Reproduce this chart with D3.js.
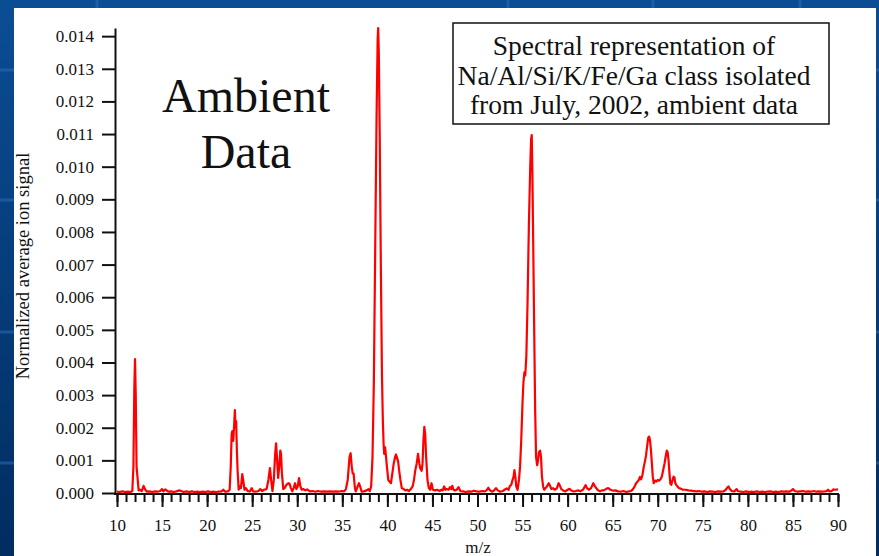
<!DOCTYPE html>
<html>
<head>
<meta charset="utf-8">
<script src="https://cdn.jsdelivr.net/npm/d3@7"></script>
<style>
  html, body { margin: 0; padding: 0; overflow: hidden; }
  svg { display: block; }
  text { font-family: "Liberation Serif", "Times New Roman", serif; fill: #111; }
</style>
</head>
<body>
<div id="vis"></div>
<script>
// spectrum: [m/z, normalized average ion signal]
const spectrum = [
  [10.0, 0.00004], [10.3, 0.00003], [10.6, 0.00005], [10.9, 0.00003], [11.2, 0.00004],
  [11.5, 0.00003], [11.7, 0.00006], [11.82, 0.0008], [11.92, 0.0032], [12.0, 0.0041],
  [12.08, 0.0030], [12.17, 0.0008], [12.3, 0.0004], [12.4, 0.00008], [12.55, 0.0001],
  [12.75, 0.00006], [12.95, 0.00022], [13.1, 0.00012], [13.3, 0.00004], [13.6, 0.00005],
  [13.9, 0.00003], [14.2, 0.00005], [14.5, 0.00004], [14.8, 0.00006], [15.0, 0.00012],
  [15.15, 0.00005], [15.35, 0.00011], [15.5, 0.00008], [15.7, 0.00004], [16.0, 0.00005],
  [16.3, 0.00003], [16.6, 0.00005], [16.9, 0.00008], [17.1, 0.00006], [17.4, 0.00003],
  [17.7, 0.00005], [18.0, 0.00003], [18.3, 0.00005], [18.6, 0.00003], [18.9, 0.00004],
  [19.2, 0.00003], [19.5, 0.00004], [19.8, 0.00003], [20.1, 0.00005], [20.4, 0.00003],
  [20.7, 0.00004], [21.0, 0.00003], [21.3, 0.00004], [21.6, 0.00005], [21.8, 0.0001],
  [22.0, 0.00004], [22.3, 0.00005], [22.5, 0.0001], [22.62, 0.0008], [22.72, 0.0018],
  [22.8, 0.0019], [22.9, 0.0016], [23.0, 0.0021], [23.08, 0.00254], [23.15, 0.0020],
  [23.22, 0.0022], [23.3, 0.0013], [23.38, 0.0007], [23.5, 0.0001], [23.62, 0.0002],
  [23.75, 0.00015], [23.9, 0.00058], [24.0, 0.0004], [24.15, 0.0001], [24.3, 0.00015],
  [24.5, 0.00006], [24.75, 0.00005], [24.95, 0.00015], [25.1, 0.00005], [25.4, 0.00004],
  [25.7, 0.00006], [25.9, 0.00012], [26.1, 0.00006], [26.3, 0.0001], [26.6, 0.00012],
  [26.8, 0.0004], [26.97, 0.00076], [27.1, 0.0004], [27.25, 0.00006], [27.4, 0.0004],
  [27.55, 0.0012], [27.65, 0.00152], [27.75, 0.0011], [27.88, 0.00046], [28.0, 0.0008],
  [28.12, 0.0013], [28.2, 0.0012], [28.3, 0.0006], [28.45, 0.00012], [28.6, 0.00015],
  [28.8, 0.00025], [29.0, 0.0003], [29.15, 0.00028], [29.3, 0.00015], [29.45, 0.00005],
  [29.6, 0.00015], [29.75, 0.0003], [29.9, 0.00012], [30.05, 0.0002], [30.2, 0.00046],
  [30.35, 0.0002], [30.5, 0.0001], [30.7, 0.00012], [30.9, 0.00008], [31.1, 0.00011],
  [31.4, 0.00005], [31.7, 0.00006], [32.0, 0.00004], [32.3, 0.00006], [32.6, 0.00004],
  [33.0, 0.00005], [33.3, 0.00004], [33.6, 0.00005], [34.0, 0.00004], [34.3, 0.00005],
  [34.6, 0.00004], [34.9, 0.00006], [35.2, 0.00005], [35.4, 0.00012], [35.6, 0.0004],
  [35.8, 0.0011], [35.92, 0.00122], [36.05, 0.0008], [36.15, 0.0006], [36.25, 0.0006],
  [36.4, 0.00015], [36.5, 0.00005], [36.7, 0.0002], [36.85, 0.0003], [37.0, 0.00018],
  [37.15, 0.00004], [37.4, 0.00005], [37.7, 0.00008], [37.9, 0.00012], [38.05, 0.00006],
  [38.2, 0.0002], [38.35, 0.0011], [38.5, 0.0034], [38.65, 0.0075], [38.8, 0.0115],
  [38.92, 0.0139], [38.98, 0.01425], [39.05, 0.0135], [39.15, 0.0110], [39.28, 0.0068],
  [39.4, 0.0036], [39.5, 0.0022], [39.58, 0.0015], [39.65, 0.0012], [39.75, 0.0014],
  [39.82, 0.0012], [39.95, 0.0008], [40.1, 0.0004], [40.25, 0.00035], [40.4, 0.0003],
  [40.55, 0.0006], [40.7, 0.0009], [40.85, 0.0011], [40.95, 0.00118], [41.05, 0.0011],
  [41.2, 0.00096], [41.3, 0.0007], [41.45, 0.0004], [41.6, 0.00015], [41.8, 0.00012],
  [42.0, 0.00008], [42.2, 0.0001], [42.4, 0.00006], [42.6, 0.00012], [42.8, 0.0002],
  [42.95, 0.0004], [43.1, 0.0007], [43.25, 0.0009], [43.4, 0.0012], [43.55, 0.0009],
  [43.65, 0.00075], [43.8, 0.00068], [43.9, 0.0009], [44.0, 0.0016], [44.1, 0.00203],
  [44.2, 0.0018], [44.3, 0.0011], [44.45, 0.0004], [44.6, 0.00015], [44.75, 0.0001],
  [44.9, 0.0003], [45.05, 0.0001], [45.3, 0.00008], [45.5, 0.0001], [45.8, 0.00006],
  [46.0, 0.0001], [46.15, 0.00008], [46.3, 0.0002], [46.45, 0.0001], [46.6, 0.00012],
  [46.8, 0.0001], [46.95, 0.00018], [47.1, 0.00012], [47.2, 0.00022], [47.35, 0.0001],
  [47.5, 0.00008], [47.7, 0.0001], [47.9, 0.00018], [48.1, 0.00006], [48.4, 0.00005],
  [48.7, 0.00003], [49.0, 0.00005], [49.3, 0.00004], [49.6, 0.00007], [49.9, 0.00005],
  [50.2, 0.00004], [50.5, 0.00006], [50.8, 0.00005], [51.0, 0.00008], [51.2, 0.00016],
  [51.4, 0.00008], [51.6, 0.00004], [51.8, 0.00007], [52.05, 0.00015], [52.25, 0.00008],
  [52.5, 0.00004], [52.8, 0.00006], [53.0, 0.0001], [53.25, 0.00014], [53.45, 0.0001],
  [53.6, 0.00022], [53.75, 0.00025], [53.87, 0.00038], [54.0, 0.0005], [54.1, 0.0007],
  [54.2, 0.0005], [54.3, 0.0002], [54.45, 0.0001], [54.6, 0.0004], [54.72, 0.0008],
  [54.85, 0.0016], [55.0, 0.0028], [55.1, 0.0034], [55.2, 0.0037], [55.3, 0.0036],
  [55.42, 0.0042], [55.55, 0.0058], [55.7, 0.0082], [55.85, 0.0100], [55.95, 0.01085],
  [56.02, 0.01097], [56.1, 0.0096], [56.2, 0.0072], [56.3, 0.0048], [56.4, 0.0025],
  [56.5, 0.0011], [56.62, 0.00085], [56.72, 0.001], [56.82, 0.00125], [56.95, 0.0013],
  [57.05, 0.0011], [57.15, 0.0005], [57.28, 0.0002], [57.4, 0.0001], [57.55, 0.00015],
  [57.7, 0.0002], [57.9, 0.0003], [58.05, 0.00022], [58.2, 0.00012], [58.4, 0.00015],
  [58.55, 0.0001], [58.8, 0.00014], [59.0, 0.0003], [59.15, 0.00022], [59.3, 0.00012],
  [59.5, 0.00008], [59.75, 0.00005], [60.0, 0.0001], [60.2, 0.00013], [60.4, 0.00008],
  [60.6, 0.00005], [60.9, 0.00006], [61.2, 0.00008], [61.4, 0.00005], [61.7, 0.0001],
  [62.0, 0.00024], [62.15, 0.00015], [62.35, 0.0001], [62.6, 0.00015], [62.85, 0.0003],
  [63.0, 0.00022], [63.2, 0.00014], [63.4, 0.00008], [63.6, 0.00005], [63.8, 0.00008],
  [64.0, 0.00008], [64.25, 0.00012], [64.5, 0.00015], [64.75, 0.0001], [65.05, 0.00007],
  [65.3, 0.00008], [65.6, 0.00005], [65.9, 0.00004], [66.2, 0.00006], [66.5, 0.00003],
  [66.8, 0.00005], [67.0, 0.00006], [67.2, 0.0001], [67.4, 0.00018], [67.6, 0.0003],
  [67.75, 0.00035], [67.9, 0.0004], [68.03, 0.00049], [68.15, 0.00042], [68.3, 0.00055],
  [68.45, 0.0008], [68.6, 0.001], [68.7, 0.00115], [68.85, 0.0015], [68.95, 0.0017],
  [69.05, 0.00173], [69.15, 0.0016], [69.25, 0.0013], [69.35, 0.0009], [69.45, 0.0005],
  [69.55, 0.0003], [69.7, 0.00038], [69.85, 0.00035], [70.0, 0.0004], [70.15, 0.00038],
  [70.3, 0.00042], [70.45, 0.0005], [70.6, 0.0007], [70.75, 0.0009], [70.9, 0.00115],
  [71.0, 0.0013], [71.1, 0.00125], [71.2, 0.001], [71.3, 0.0006], [71.4, 0.00028],
  [71.5, 0.00025], [71.6, 0.00035], [71.75, 0.0005], [71.85, 0.00048], [71.95, 0.0003],
  [72.05, 0.00025], [72.2, 0.0002], [72.35, 0.00015], [72.5, 0.00014], [72.8, 0.0001],
  [73.1, 0.0001], [73.4, 0.00008], [73.7, 0.00007], [74.0, 0.00006], [74.3, 0.00005],
  [74.6, 0.00006], [74.9, 0.00004], [75.2, 0.00005], [75.5, 0.00003], [75.8, 0.00005],
  [76.1, 0.00004], [76.4, 0.00003], [76.7, 0.00005], [77.0, 0.00004], [77.3, 0.00005],
  [77.55, 0.0001], [77.7, 0.00016], [77.85, 0.0002], [78.0, 0.00012], [78.2, 0.00006],
  [78.5, 0.00005], [78.75, 0.00012], [78.9, 0.00006], [79.2, 0.00004], [79.5, 0.00003],
  [79.8, 0.00005], [80.1, 0.00003], [80.4, 0.00004], [80.7, 0.00003], [81.0, 0.00005],
  [81.3, 0.00003], [81.6, 0.00004], [81.9, 0.00003], [82.2, 0.00004], [82.5, 0.00005],
  [82.8, 0.00003], [83.1, 0.00004], [83.4, 0.00003], [83.7, 0.00005], [84.0, 0.00004],
  [84.3, 0.00005], [84.6, 0.00004], [84.85, 0.00008], [85.0, 0.00012], [85.2, 0.00006],
  [85.5, 0.00004], [85.8, 0.00005], [86.1, 0.00006], [86.4, 0.00004], [86.7, 0.00005],
  [87.0, 0.00004], [87.3, 0.00006], [87.6, 0.00004], [87.9, 0.00005], [88.2, 0.00004],
  [88.5, 0.00005], [88.75, 0.00006], [88.9, 0.0001], [89.05, 0.00005], [89.3, 0.00006],
  [89.5, 0.00011], [89.7, 0.0001], [90.0, 0.00011]
];

const yTicks = d3.range(0, 15).map(i => i / 1000);
const xMajorTicks = d3.range(10, 91, 5);
const xMinorTicks = d3.range(10, 91, 1);
const boxLines = ["Spectral representation of", "Na/Al/Si/K/Fe/Ga class isolated", "from July, 2002, ambient data"];
const sideLines = ["Ambient", "Data"];
const yTitle = "Normalized average ion signal";
const xTitle = "m/z";

const width = 879, height = 556;

const svg = d3.select("#vis").append("svg")
    .attr("width", width)
    .attr("height", height);

// slide background
const grad = svg.append("defs").append("linearGradient")
    .attr("id", "bg").attr("x1", 0).attr("y1", 0).attr("x2", 0).attr("y2", 1);
grad.append("stop").attr("offset", "0%").attr("stop-color", "#0b4d95");
grad.append("stop").attr("offset", "100%").attr("stop-color", "#012d60");
svg.append("rect").attr("width", width).attr("height", height).attr("fill", "url(#bg)");

const bgGrid = svg.append("g").attr("stroke", "#2a6cb8").attr("stroke-width", 3).attr("opacity", 0.55);
[97, 508, 653, 800].forEach(x => bgGrid.append("line").attr("x1", x).attr("x2", x).attr("y1", 0).attr("y2", height));
[70, 200, 332, 463].forEach(y => bgGrid.append("line").attr("x1", 0).attr("x2", width).attr("y1", y).attr("y2", y));

svg.append("rect")
    .attr("x", 14).attr("y", 8)
    .attr("width", 862).attr("height", 560)
    .attr("fill", "#fff");

// scales
const x = d3.scaleLinear().domain([10, 90]).range([117, 838]);
const y = d3.scaleLinear().domain([0, 0.01425]).range([493, 28]);

// spectrum line
svg.append("path")
    .datum(spectrum)
    .attr("fill", "none")
    .attr("stroke", "#ff0000")
    .attr("stroke-width", 2.2)
    .attr("stroke-linejoin", "round")
    .attr("d", d3.line().x(d => x(d[0])).y(d => y(d[1])));

// y axis
const yAxis = svg.append("g")
    .attr("transform", "translate(115,0)")
    .call(d3.axisLeft(y).tickValues(yTicks).tickFormat(d3.format(".3f"))
      .tickSize(13).tickSizeOuter(0).tickPadding(8));
yAxis.selectAll("text").attr("font-size", 17).attr("font-family", null);

// x axis: minor then major ticks
const xBase = 494;
svg.append("g")
    .attr("transform", `translate(0,${xBase})`)
    .call(d3.axisBottom(x).tickValues(xMinorTicks).tickFormat("").tickSize(8).tickSizeOuter(0))
    .call(g => g.select(".domain").remove());
const xAxis = svg.append("g")
    .attr("transform", `translate(0,${xBase})`)
    .call(d3.axisBottom(x).tickValues(xMajorTicks).tickFormat(d3.format("d"))
      .tickSize(13).tickSizeOuter(0).tickPadding(12))
    .call(g => g.select(".domain").remove());
xAxis.selectAll("text").attr("font-size", 17).attr("font-family", null);

svg.append("line")
    .attr("x1", 114).attr("x2", x(90) + 1)
    .attr("y1", xBase).attr("y2", xBase)
    .attr("stroke", "#111").attr("stroke-width", 2);

svg.selectAll(".tick line").attr("stroke", "#111").attr("stroke-width", 2);
yAxis.select(".domain").attr("stroke", "#111").attr("stroke-width", 2);

// axis titles
svg.append("text")
    .attr("transform", "translate(29,266) rotate(-90)")
    .attr("text-anchor", "middle")
    .attr("font-size", 18.5)
    .text(yTitle);

svg.append("text")
    .attr("x", 478).attr("y", 553)
    .attr("text-anchor", "middle")
    .attr("font-size", 17)
    .text(xTitle);

// annotations
svg.selectAll(".side")
  .data(sideLines)
  .join("text")
    .attr("class", "side")
    .attr("x", 246)
    .attr("y", (d, i) => 112 + i * 56)
    .attr("text-anchor", "middle")
    .attr("font-size", 48)
    .text(d => d);

svg.append("rect")
    .attr("x", 453).attr("y", 23)
    .attr("width", 376).attr("height", 101)
    .attr("fill", "#fff")
    .attr("stroke", "#111")
    .attr("stroke-width", 1.5);

svg.selectAll(".box")
  .data(boxLines)
  .join("text")
    .attr("class", "box")
    .attr("x", 634)
    .attr("y", (d, i) => 55 + i * 29.5)
    .attr("text-anchor", "middle")
    .attr("font-size", 27.5)
    .text(d => d);
</script>
</body>
</html>
